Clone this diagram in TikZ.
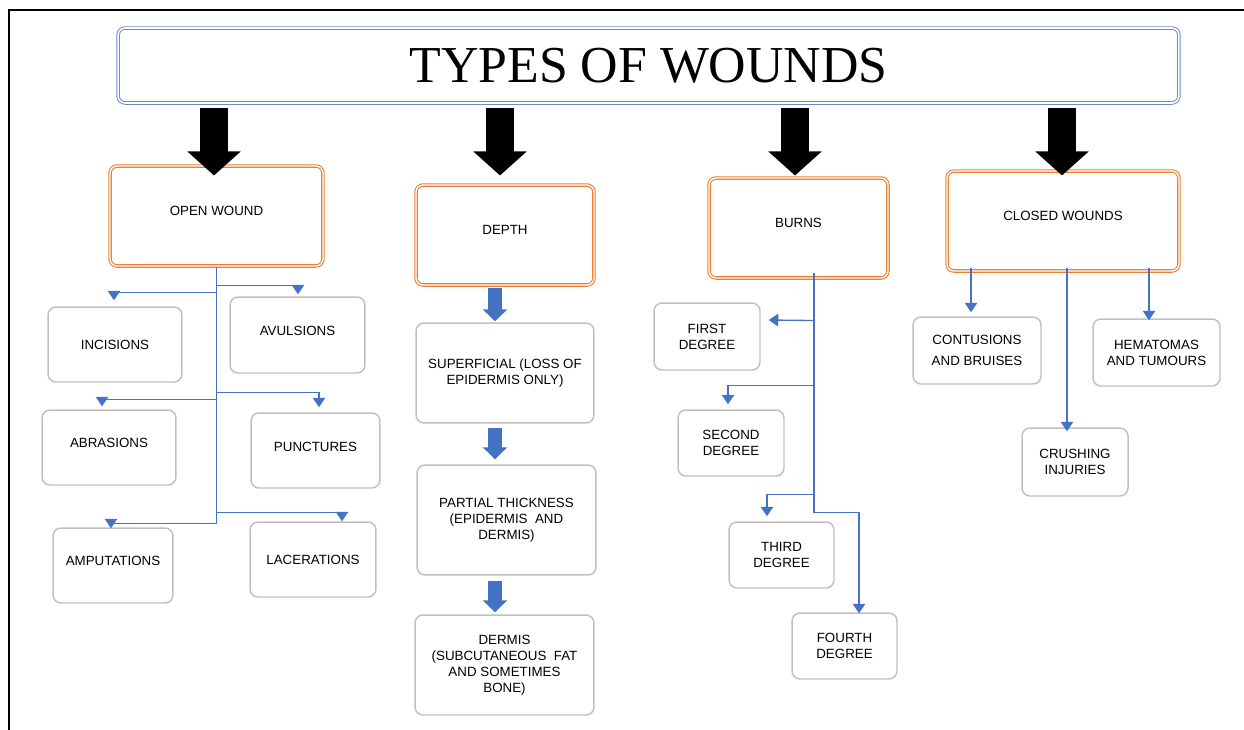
\documentclass[tikz,border=0pt]{standalone}
\usepackage{fontspec}
\setmainfont{Liberation Serif}
\setsansfont{Liberation Sans}
\usetikzlibrary{arrows.meta, positioning, calc}
\definecolor{titleblue}{RGB}{104,140,208}
\definecolor{lineblue}{RGB}{68,114,196}
\definecolor{boxorange}{RGB}{237,125,49}
\definecolor{boxgray}{RGB}{192,192,192}

\begin{document}
\begin{tikzpicture}[
    x=0.02cm, y=-0.02cm,
    font=\sffamily\fontsize{7.6}{9.1}\selectfont,
    title/.style = {
        rectangle, draw=titleblue, double, double distance=0.9pt,
        line width=0.55pt, rounded corners=4pt, inner sep=0pt,
        minimum width=21.22cm, minimum height=1.5cm,
        font=\rmfamily\fontsize{29.5}{30}\selectfont
    },
    group/.style = {
        rectangle, draw=boxorange, double, double distance=0.8pt,
        line width=0.6pt, rounded corners=4pt, inner sep=0pt,
        minimum height=2cm, text depth=0.2cm, align=center
    },
    leaf/.style = {
        rectangle, draw=boxgray, line width=0.85pt,
        rounded corners=0.16cm, inner sep=0pt,
        minimum width=2.6cm, minimum height=1.5cm, align=center
    },
    bigarr/.style = {line width=0.56cm, black, -{Triangle[length=0.48cm, width=1.04cm]}},
    blockarr/.style = {line width=0.28cm, lineblue, -{Triangle[length=0.24cm, width=0.48cm]}},
    trunk/.style = {draw=lineblue, line width=0.75pt},
    conn/.style = {trunk, -{Triangle[length=0.19cm, width=0.25cm]}},
]
\useasboundingbox (0,0) rectangle (1244,730);

% Frame
\draw[line width=1.2pt] (9,730) |- (1244,10);

% Title
\node[title] (title) at (648.5,65.5) {TYPES OF WOUNDS};

% Groups
\node[group, minimum width=4.26cm] (open) at (216.5,216) {OPEN WOUND};
\node[group, minimum width=3.56cm] (depth) at (505,235) {DEPTH};
\node[group, minimum width=3.58cm] (burns) at (798.5,228) {BURNS};
\node[group, minimum width=4.64cm] (closed) at (1063,221) {CLOSED WOUNDS};

\draw[bigarr] ($(title.south -| open.north)+(-2.5,5)$) -- ++(0,67);
\draw[bigarr] ($(title.south -| depth.north)+(-5,5)$) -- ++(0,67);
\draw[bigarr] ($(title.south -| burns.north)+(-3.5,5)$) -- ++(0,67);
\draw[bigarr] ($(title.south -| closed.north)+(-1,5)$) -- ++(0,67);

% Open wound
\node[leaf, minimum width=2.68cm] (inc) at (115,344.5) {INCISIONS};
\node[leaf, minimum width=2.7cm, minimum height=1.52cm, text depth=0.18cm] (avu) at (297.5,335) {AVULSIONS};
\node[leaf, minimum width=2.68cm, text depth=0.18cm] (abr) at (109,447.5) {ABRASIONS};
\node[leaf, minimum width=2.58cm, text depth=0.14cm] (pun) at (315.5,450.5) {PUNCTURES};
\node[leaf, minimum width=2.4cm, text depth=0.2cm] (amp) at (113,565.5) {AMPUTATIONS};
\node[leaf, minimum width=2.52cm] (lac) at (313,559.5) {LACERATIONS};

\draw[trunk] (open.south) -- ++(0,257);
\draw[conn] ($(open.south)+(0,26)$) -| ($(inc.north)+(-1,-6)$);
\draw[conn] ($(open.south)+(0,19)$) -| ($(avu.north)+(0.5,-2)$);
\draw[conn] ($(open.south)+(0,133)$) -| ($(abr.north)+(-7,-3)$);
\draw[conn] ($(open.south)+(0,126)$) -| ($(pun.north)+(3.5,-5)$);
\draw[conn] ($(open.south)+(0,257)$) -| ($(amp.north)+(-2,1)$);
\draw[conn] ($(open.south)+(0,246)$) -| ($(lac.north)+(29,0)$);

% Depth
\node[leaf, minimum width=3.56cm, minimum height=2cm] (sup) at (505,373)
    {SUPERFICIAL (LOSS OF\\EPIDERMIS ONLY)};
\node[leaf, minimum width=3.58cm, minimum height=2.2cm] (par) at (506.5,520)
    {PARTIAL THICKNESS\\(EPIDERMIS\ \ AND\\DERMIS)};
\node[leaf, minimum width=3.58cm, minimum height=2cm] (der) at (504.5,665)
    {DERMIS\\(SUBCUTANEOUS\ \ FAT\\AND SOMETIMES\\BONE)};

\draw[blockarr] ($(depth.south)+(-10,2)$) -- ($(sup.north)+(-10,-1)$);
\draw[blockarr] ($(sup.south)+(-10,4)$) -- ($(par.north)+(-11.5,-5)$);
\draw[blockarr] ($(par.south)+(-11.5,5)$) -- ($(der.north)+(-9.5,-2)$);

% Burns
\node[leaf, minimum width=2.12cm, minimum height=1.34cm] (first) at (707,336.5) {FIRST\\DEGREE};
\node[leaf, minimum width=2.12cm, minimum height=1.32cm] (second) at (731,443) {SECOND\\DEGREE};
\node[leaf, minimum width=2.1cm, minimum height=1.32cm] (third) at (781.5,555) {THIRD\\DEGREE};
\node[leaf, minimum width=2.1cm, minimum height=1.32cm] (fourth) at (844.5,646) {FOURTH\\DEGREE};

\draw[trunk] ($(burns.south)+(15.5,-6)$) -- ++(0,240);
\draw[conn] ($(burns.south)+(15.5,42)$) -- ($(first.east)+(8,-16.5)$);
\draw[conn] ($(burns.south)+(15.5,107)$) -| ($(second.north)+(-3,-5)$);
\draw[conn] ($(burns.south)+(15.5,216)$) -| ($(third.north)+(-14.5,-5)$);
\draw[conn] ($(burns.south)+(15.5,234)$) -| ($(fourth.north)+(14.5,1)$);

% Closed wounds
\node[leaf, minimum width=2.56cm, minimum height=1.34cm] (cont) at (977,350.5)
    {CONTUSIONS\\[0.1cm]AND BRUISES};
\node[leaf, minimum width=2.54cm, minimum height=1.34cm] (hema) at (1156.5,352.5)
    {HEMATOMAS\\AND TUMOURS};
\node[leaf, minimum width=2.12cm, minimum height=1.36cm] (crush) at (1075,462)
    {CRUSHING\\INJURIES};

\draw[conn] ($(closed.south -| cont.north)+(-6,-4)$) -- ($(cont.north)+(-6,-4)$);
\draw[conn] ($(closed.south -| hema.north)+(-7.5,-4)$) -- ($(hema.north)+(-7.5,2)$);
\draw[conn] ($(closed.south -| crush.north)+(-8,-4)$) -- ($(crush.north)+(-8,4)$);

\end{tikzpicture}
\end{document}
